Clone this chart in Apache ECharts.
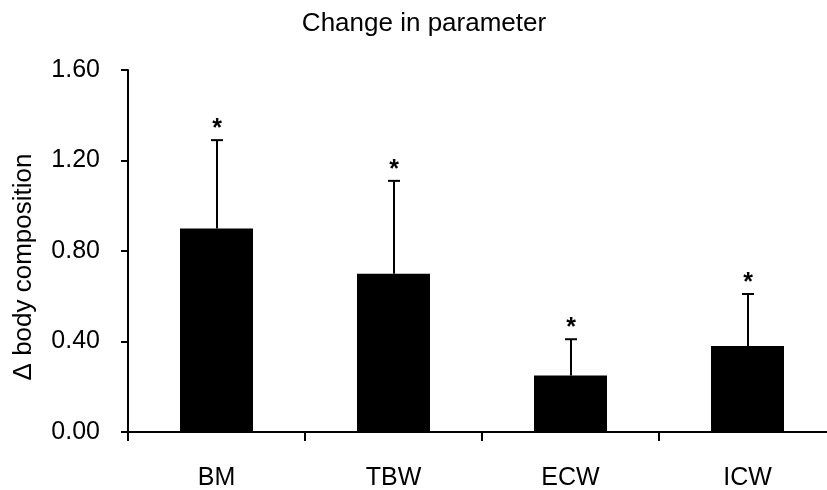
<!DOCTYPE html>
<html>
<head>
<meta charset="utf-8">
<style>
  html, body { margin: 0; padding: 0; background: #fff; }
  #chart { width: 827px; height: 490px; }
</style>
<script src="https://cdn.jsdelivr.net/npm/echarts@6/dist/echarts.min.js"></script>
</head>
<body>
<div id="chart"></div>
<script>
// Categories and measured changes (mean + SD upper error)
const categories = ['BM', 'TBW', 'ECW', 'ICW'];
const meanChange = [0.90, 0.70, 0.25, 0.38];
const sdChange = [0.39, 0.41, 0.16, 0.23];
const significance = ['*', '*', '*', '*'];
const yTicks = [0, 0.4, 0.8, 1.2, 1.6];

const FONT = '"Liberation Sans", Arial, Helvetica, sans-serif';
const chart = echarts.init(document.getElementById('chart'), null, { renderer: 'canvas' });

// error bar (upper whisker + cap) and the significance mark above it
const errorData = categories.map((c, i) => [i, meanChange[i], meanChange[i] + sdChange[i], significance[i]]);

chart.setOption({
  animation: false,
  backgroundColor: '#ffffff',
  title: {
    text: 'Change in parameter',
    left: 419,
    top: 6,
    textAlign: 'center',
    textStyle: { fontFamily: FONT, fontSize: 26, fontWeight: 'normal', color: '#000' }
  },
  grid: { left: 128, top: 70, width: 708, height: 362, containLabel: false, outerBoundsMode: 'none' },
  xAxis: {
    type: 'category',
    data: categories,
    boundaryGap: true,
    axisLine: { lineStyle: { color: '#000', width: 2 } },
    axisTick: { show: true, length: 9, lineStyle: { color: '#000', width: 2 } },
    axisLabel: { margin: 34, fontFamily: FONT, fontSize: 25, color: '#000' },
    splitLine: { show: false }
  },
  yAxis: {
    type: 'value',
    min: yTicks[0],
    max: yTicks[yTicks.length - 1],
    interval: yTicks[1] - yTicks[0],
    axisLine: { show: true, lineStyle: { color: '#000', width: 2 } },
    axisTick: { show: true, length: 7, lineStyle: { color: '#000', width: 2 } },
    axisLabel: {
      margin: 28, fontFamily: FONT, fontSize: 25, color: '#000',
      formatter: v => v.toFixed(2)
    },
    splitLine: { show: false }
  },
  graphic: [{
    type: 'text',
    x: 24,
    y: 267,
    rotation: Math.PI / 2,
    style: {
      text: 'Δ body composition',
      fontFamily: FONT, fontSize: 26, fill: '#000',
      textAlign: 'center', textVerticalAlign: 'middle'
    }
  }],
  series: [
    {
      type: 'bar',
      data: meanChange,
      barWidth: 73,
      itemStyle: { color: '#000' },
      z: 2
    },
    {
      type: 'custom',
      data: errorData,
      z: 3,
      renderItem: function (params, api) {
        const base = api.coord([api.value(0), api.value(1)]);
        const top = api.coord([api.value(0), api.value(2)]);
        const x = Math.round(base[0]);
        const half = 6;
        const stroke = { stroke: '#000', lineWidth: 2 };
        return {
          type: 'group',
          children: [
            { type: 'line', shape: { x1: x, y1: base[1], x2: x, y2: top[1] }, style: stroke },
            { type: 'line', shape: { x1: x - half, y1: top[1], x2: x + half, y2: top[1] }, style: stroke },
            {
              type: 'text',
              x: x,
              y: top[1] - 11,
              style: {
                text: api.value(3),
                fontFamily: FONT, fontSize: 25, fontWeight: 'bold', fill: '#000',
                textAlign: 'center', textVerticalAlign: 'middle'
              }
            }
          ]
        };
      }
    }
  ]
});
</script>
</body>
</html>
